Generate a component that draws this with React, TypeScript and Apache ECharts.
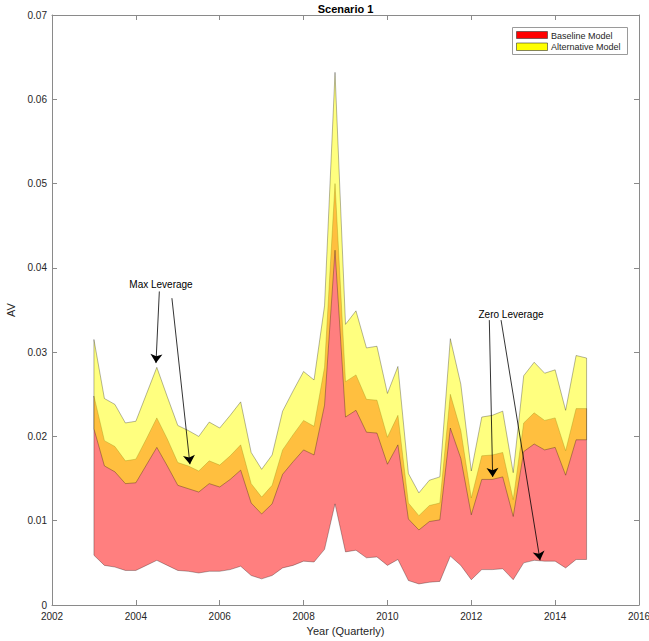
import React, { useEffect, useRef } from "react";
import * as echarts from "echarts";

const quarters = [
  2003, 2003.25, 2003.5, 2003.75, 2004, 2004.25, 2004.5, 2004.75,
  2005, 2005.25, 2005.5, 2005.75, 2006, 2006.25, 2006.5, 2006.75,
  2007, 2007.25, 2007.5, 2007.75, 2008, 2008.25, 2008.5, 2008.75,
  2009, 2009.25, 2009.5, 2009.75, 2010, 2010.25, 2010.5, 2010.75,
  2011, 2011.25, 2011.5, 2011.75, 2012, 2012.25, 2012.5, 2012.75,
  2013, 2013.25, 2013.5, 2013.75, 2014, 2014.25, 2014.5, 2014.75,
];

// Baseline Model band (red): lower and upper bounds
const baselineLower = [
  0.0059, 0.0047, 0.0045, 0.0041, 0.0041, 0.0047, 0.0053, 0.0047,
  0.0041, 0.0040, 0.0038, 0.0040, 0.0040, 0.0042, 0.0046, 0.0035,
  0.0031, 0.0035, 0.0044, 0.0047, 0.0052, 0.0051, 0.0066, 0.0120,
  0.0063, 0.0065, 0.0056, 0.0057, 0.0047, 0.0054, 0.0029, 0.0025,
  0.0027, 0.0028, 0.0058, 0.0047, 0.0030, 0.0042, 0.0042, 0.0043,
  0.0030, 0.0050, 0.0053, 0.0052, 0.0052, 0.0044, 0.0054, 0.0054,
];
const baselineUpper = [
  0.0248, 0.0195, 0.0188, 0.0171, 0.0173, 0.0197, 0.0222, 0.0197,
  0.0169, 0.0165, 0.0159, 0.0171, 0.0166, 0.0177, 0.0190, 0.0144,
  0.0128, 0.0142, 0.0184, 0.0202, 0.0219, 0.0212, 0.0282, 0.0500,
  0.0265, 0.0273, 0.0244, 0.0243, 0.0199, 0.0225, 0.0121, 0.0106,
  0.0118, 0.0121, 0.0250, 0.0207, 0.0127, 0.0177, 0.0178, 0.0181,
  0.0125, 0.0216, 0.0228, 0.0219, 0.0222, 0.0183, 0.0233, 0.0233,
];

// Alternative Model band (yellow): lower and upper bounds
const alternativeLower = [
  0.0209, 0.0165, 0.0158, 0.0144, 0.0145, 0.0166, 0.0187, 0.0165,
  0.0142, 0.0138, 0.0134, 0.0144, 0.0140, 0.0149, 0.0160, 0.0121,
  0.0108, 0.0120, 0.0155, 0.0170, 0.0184, 0.0178, 0.0237, 0.0421,
  0.0223, 0.0231, 0.0205, 0.0204, 0.0167, 0.0190, 0.0102, 0.0089,
  0.0099, 0.0101, 0.0210, 0.0174, 0.0107, 0.0149, 0.0149, 0.0152,
  0.0105, 0.0182, 0.0191, 0.0184, 0.0187, 0.0154, 0.0196, 0.0196,
];
const alternativeUpper = [
  0.0315, 0.0245, 0.0238, 0.0216, 0.0218, 0.0250, 0.0282, 0.0247,
  0.0213, 0.0207, 0.0200, 0.0217, 0.0210, 0.0225, 0.0241, 0.0181,
  0.0161, 0.0178, 0.0230, 0.0254, 0.0277, 0.0267, 0.0355, 0.0632,
  0.0333, 0.0349, 0.0305, 0.0307, 0.0251, 0.0283, 0.0156, 0.0133,
  0.0148, 0.0152, 0.0316, 0.0262, 0.0159, 0.0223, 0.0225, 0.0230,
  0.0157, 0.0272, 0.0288, 0.0275, 0.0279, 0.0231, 0.0296, 0.0293,
];

// Annotation arrows (data coordinates: [year, AV] start -> end)
const maxLeverageArrows = [
  [[2004.56, 0.0372], [2004.48, 0.0287]],
  [[2004.86, 0.0364], [2005.29, 0.0167]],
];
const zeroLeverageArrows = [
  [[2012.43, 0.0338], [2012.51, 0.0152]],
  [[2012.71, 0.0338], [2013.64, 0.0053]],
];

const FONT = "'Liberation Sans', Arial, Helvetica, sans-serif";
const TEXT = "#262626";
const AXIS = "#8a8a8a";

function bandRenderer(lower: number[], upper: number[], fill: string) {
  return (_params: any, api: any) => {
    const top = quarters.map((t, i) => api.coord([t, upper[i]]));
    const bottom = quarters.map((t, i) => api.coord([t, lower[i]])).reverse();
    return {
      type: "polygon",
      shape: { points: top.concat(bottom) },
      style: { fill, stroke: "rgba(0,0,0,0.42)", lineWidth: 0.7 },
    };
  };
}

export default function App() {
  const ref = useRef<HTMLDivElement>(null);

  useEffect(() => {
    document.body.style.margin = "0";
    if (!ref.current) return;
    const chart = echarts.init(ref.current, undefined, { renderer: "svg" });

    const arrowLines = (arrs: number[][][]) =>
      arrs.map(([a, b]) => [{ coord: a }, { coord: b }]);

    const option: any = {
      animation: false,
      backgroundColor: "#ffffff",
      grid: {
        left: 52,
        top: 15,
        width: 587,
        height: 590,
        show: false,
        containLabel: false,
        outerBoundsMode: "none",
      },
      xAxis: [
        {
          type: "value",
          min: 2002,
          max: 2016,
          interval: 2,
          name: "Year (Quarterly)",
          nameLocation: "middle",
          nameGap: 20,
          nameTextStyle: { color: TEXT, fontFamily: FONT, fontSize: 11 },
          axisLine: { show: true, lineStyle: { color: AXIS, width: 1 } },
          axisTick: { show: true, inside: true, length: 5, lineStyle: { color: AXIS } },
          axisLabel: {
            color: TEXT,
            fontFamily: FONT,
            fontSize: 10,
            margin: 6,
            formatter: (v: number) => String(v),
          },
          splitLine: { show: false },
        },
        {
          type: "value",
          position: "top",
          min: 2002,
          max: 2016,
          interval: 2,
          axisLine: { show: true, onZero: false, lineStyle: { color: AXIS, width: 1 } },
          axisTick: { show: true, inside: true, length: 5, lineStyle: { color: AXIS } },
          axisLabel: { show: false },
          splitLine: { show: false },
        },
      ],
      yAxis: [
        {
          type: "value",
          min: 0,
          max: 0.07,
          interval: 0.01,
          name: "AV",
          nameLocation: "middle",
          nameGap: 28,
          nameTextStyle: { color: TEXT, fontFamily: FONT, fontSize: 11 },
          axisLine: { show: true, lineStyle: { color: AXIS, width: 1 } },
          axisTick: { show: true, inside: true, length: 5, lineStyle: { color: AXIS } },
          axisLabel: {
            color: TEXT,
            fontFamily: FONT,
            fontSize: 10,
            margin: 5,
            formatter: (v: number) => (v === 0 ? "0" : v.toFixed(2)),
          },
          splitLine: { show: false },
        },
        {
          type: "value",
          position: "right",
          min: 0,
          max: 0.07,
          interval: 0.01,
          axisLine: { show: true, onZero: false, lineStyle: { color: AXIS, width: 1 } },
          axisTick: { show: true, inside: true, length: 5, lineStyle: { color: AXIS } },
          axisLabel: { show: false },
          splitLine: { show: false },
        },
      ],
      series: [
        {
          name: "Baseline Model",
          type: "custom",
          silent: true,
          renderItem: bandRenderer(baselineLower, baselineUpper, "rgba(255,0,0,0.5)"),
          data: [[2003, 0]],
          z: 2,
        },
        {
          name: "Alternative Model",
          type: "custom",
          silent: true,
          renderItem: bandRenderer(alternativeLower, alternativeUpper, "rgba(255,255,0,0.5)"),
          data: [[2003, 0]],
          z: 3,
        },
        {
          name: "annotations",
          type: "line",
          data: [],
          silent: true,
          z: 5,
          markLine: {
            silent: true,
            symbol: ["none", "arrow"],
            symbolSize: 9,
            label: { show: false },
            lineStyle: { color: "#000000", width: 0.8, type: "solid" },
            emphasis: { disabled: true },
            data: [...arrowLines(maxLeverageArrows), ...arrowLines(zeroLeverageArrows)],
          },
        },
      ],
      graphic: [
        {
          type: "text",
          x: 345.5,
          y: 9,
          style: {
            text: "Scenario 1",
            fill: "#000",
            font: `bold 11px ${FONT}`,
            textAlign: "center",
            textVerticalAlign: "middle",
          },
        },
        {
          type: "text",
          x: 161,
          y: 284,
          style: {
            text: "Max Leverage",
            fill: "#000",
            font: `10px ${FONT}`,
            textAlign: "center",
            textVerticalAlign: "middle",
          },
        },
        {
          type: "text",
          x: 511,
          y: 314,
          style: {
            text: "Zero Leverage",
            fill: "#000",
            font: `10px ${FONT}`,
            textAlign: "center",
            textVerticalAlign: "middle",
          },
        },
        {
          type: "rect",
          shape: { x: 512.5, y: 27.5, width: 115, height: 27 },
          style: { fill: "#ffffff", stroke: "#9a9a9a", lineWidth: 1 },
          z: 10,
        },
        {
          type: "rect",
          shape: { x: 516.5, y: 31.5, width: 31, height: 7 },
          style: { fill: "#ff0000", stroke: "#333", lineWidth: 0.6 },
          z: 11,
        },
        {
          type: "rect",
          shape: { x: 516.5, y: 43, width: 31, height: 7.5 },
          style: { fill: "#ffff00", stroke: "#333", lineWidth: 0.6 },
          z: 11,
        },
        {
          type: "text",
          x: 551,
          y: 35.5,
          z: 11,
          style: {
            text: "Baseline Model",
            fill: TEXT,
            font: `9px ${FONT}`,
            textAlign: "left",
            textVerticalAlign: "middle",
          },
        },
        {
          type: "text",
          x: 551,
          y: 46.8,
          z: 11,
          style: {
            text: "Alternative Model",
            fill: TEXT,
            font: `9px ${FONT}`,
            textAlign: "left",
            textVerticalAlign: "middle",
          },
        },
      ],
    };

    chart.setOption(option);
    return () => chart.dispose();
  }, []);

  return <div ref={ref} style={{ width: 649, height: 641 }} />;
}
